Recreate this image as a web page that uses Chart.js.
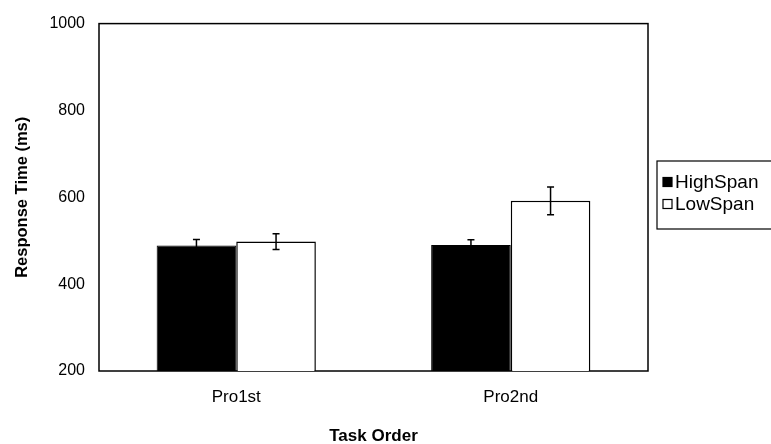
<!DOCTYPE html>
<html>
<head>
<meta charset="utf-8">
<script src="https://cdn.jsdelivr.net/npm/chart.js@4.4.1/dist/chart.umd.min.js"></script>
<style>
html,body{margin:0;padding:0;background:#fff;}
#c{display:block;}
</style>
</head>
<body>
<canvas id="c" width="771" height="444"></canvas>
<script>
const categories = ['Pro1st', 'Pro2nd'];
const highSpan = [489, 490];
const highSpanErr = [14, 12];
const lowSpan = [498, 592];
const lowSpanErr = [18, 32];
const yTicks = [200, 400, 600, 800, 1000];
const seriesNames = ['HighSpan', 'LowSpan'];
const xTitle = 'Task Order';
const yTitle = 'Response Time (ms)';

const FONT = '"Liberation Sans", Arial, Helvetica, sans-serif';

const frameAndErrors = {
  id: 'frameAndErrors',
  beforeDatasetsDraw(chart) {
    const {ctx, chartArea: a} = chart;
    ctx.save();
    ctx.strokeStyle = '#000';
    ctx.lineWidth = 1.5;
    ctx.strokeRect(a.left, a.top, a.right - a.left, a.bottom - a.top);
    ctx.restore();
  },
  afterDatasetsDraw(chart) {
    const {ctx} = chart;
    const y = chart.scales.y;
    ctx.save();
    ctx.strokeStyle = '#000';
    ctx.lineWidth = 1.5;
    chart.data.datasets.forEach((ds, di) => {
      const meta = chart.getDatasetMeta(di);
      meta.data.forEach((bar, i) => {
        const v = ds.data[i], e = ds.errors[i];
        const yt = y.getPixelForValue(v + e);
        const yb = y.getPixelForValue(v - e);
        const x = bar.x;
        ctx.beginPath();
        ctx.moveTo(x, yt); ctx.lineTo(x, yb);
        ctx.moveTo(x - 3.5, yt); ctx.lineTo(x + 3.5, yt);
        ctx.moveTo(x - 3.5, yb); ctx.lineTo(x + 3.5, yb);
        ctx.stroke();
      });
    });
    ctx.restore();
  },
  afterDraw(chart) {
    const {ctx} = chart;
    ctx.save();
    ctx.strokeStyle = '#000';
    ctx.lineWidth = 1.2;
    ctx.strokeRect(657, 161, 140, 68);
    ctx.font = '19px ' + FONT;
    ctx.textBaseline = 'middle';
    ctx.textAlign = 'left';
    const rows = [182, 204];
    chart.data.datasets.forEach((ds, di) => {
      const cy = rows[di];
      ctx.fillStyle = ds.backgroundColor;
      ctx.fillRect(663, cy - 4.5, 9, 9);
      ctx.lineWidth = 1.2;
      ctx.strokeStyle = '#000';
      ctx.strokeRect(663, cy - 4.5, 9, 9);
      ctx.fillStyle = '#000';
      ctx.fillText(ds.label, 675, cy + 1);
    });
    ctx.restore();
  }
};

new Chart(document.getElementById('c'), {
  type: 'bar',
  data: {
    labels: categories,
    datasets: [
      { label: seriesNames[0], data: highSpan, errors: highSpanErr,
        backgroundColor: '#000', borderColor: '#000', borderWidth: 1 },
      { label: seriesNames[1], data: lowSpan, errors: lowSpanErr,
        backgroundColor: '#fff', borderColor: '#000', borderWidth: 1.5 }
    ]
  },
  options: {
    responsive: false,
    animation: false,
    devicePixelRatio: 1,
    layout: { padding: { left: 0, right: 123, top: 18, bottom: 0 } },
    datasets: { bar: { barPercentage: 1, categoryPercentage: 0.58 } },
    plugins: { legend: { display: false }, tooltip: { enabled: false } },
    scales: {
      x: {
        grid: { display: false, drawTicks: false },
        border: { display: false },
        ticks: { color: '#000', font: { family: FONT, size: 17 }, padding: 16 },
        title: { display: true, text: xTitle, color: '#000',
                 font: { family: FONT, size: 17, weight: 'bold' }, padding: { top: 0, bottom: -3 } },
        afterFit(s) { s.height = 73; }
      },
      y: {
        min: 200, max: 1000,
        afterBuildTicks(s) { s.ticks = yTicks.map(v => ({ value: v })); },
        grid: { display: false, drawTicks: false },
        border: { display: false },
        ticks: { color: '#000', font: { family: FONT, size: 16 }, padding: 14,
                 callback: v => String(v) },
        title: { display: true, text: yTitle, color: '#000',
                 font: { family: FONT, size: 16.5, weight: 'bold' }, padding: { top: 13, bottom: 0 } },
        afterFit(s) { s.width = 99; }
      }
    }
  },
  plugins: [frameAndErrors]
});
</script>
</body>
</html>
